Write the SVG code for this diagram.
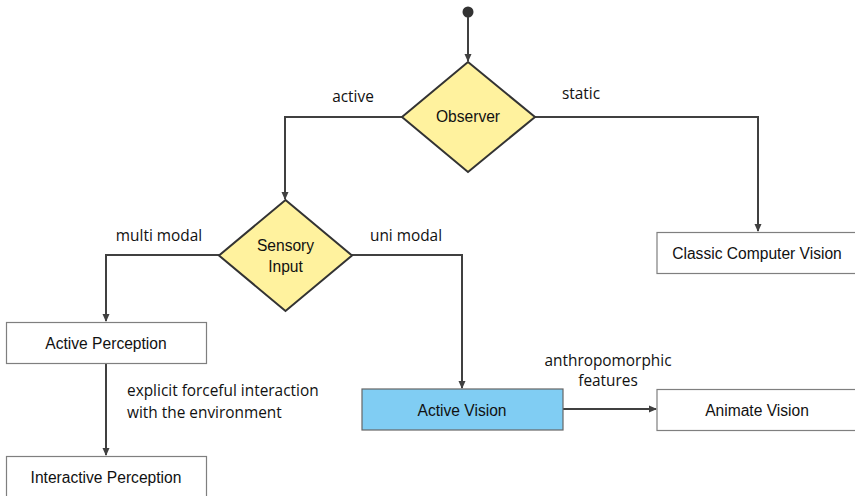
<svg xmlns="http://www.w3.org/2000/svg" width="855" height="496" viewBox="0 0 855 496">
<style>
.e{fill:none;stroke:#404040;stroke-width:2}
.d{fill:#fff29e;stroke:#333;stroke-width:2}
.b{fill:#fff;stroke:#7f7f7f;stroke-width:1.2}
.n{font-family:"Liberation Sans",Arial,sans-serif;font-size:15.6px;fill:#111;text-anchor:middle}
.l{font-family:"Open Sans","Noto Sans",sans-serif;font-size:15.4px;fill:#111}
</style>
<defs>
<marker id="a" markerWidth="8" markerHeight="8" refX="7" refY="4" orient="auto" markerUnits="userSpaceOnUse">
<path d="M0,0.5 L8,4 L0,7.5 Z" fill="#404040"/>
</marker>
</defs>
<g id="connectors">
<circle cx="468" cy="12" r="5.5" fill="#333"/>
<path class="e" d="M468,17 V61" marker-end="url(#a)"/>
<path class="e" d="M402,117 H285 V199" marker-end="url(#a)"/>
<path class="e" d="M535,117 H758 V231" marker-end="url(#a)"/>
<path class="e" d="M219,255 H106 V321" marker-end="url(#a)"/>
<path class="e" d="M352,255 H462 V388" marker-end="url(#a)"/>
<path class="e" d="M106,364 V455" marker-end="url(#a)"/>
<path class="e" d="M563,409 H656" marker-end="url(#a)"/>
<text class="l" x="353" y="102" text-anchor="middle">active</text>
<text class="l" x="581" y="99" text-anchor="middle">static</text>
<text class="l" x="159" y="241" text-anchor="middle">multi modal</text>
<text class="l" x="406" y="241" text-anchor="middle">uni modal</text>
<text class="l" x="127" y="396">explicit forceful interaction</text>
<text class="l" x="127" y="418">with the environment</text>
<text class="l" x="608" y="366" text-anchor="middle">anthropomorphic</text>
<text class="l" x="608" y="386" text-anchor="middle">features</text>
</g>
<g id="observer">
<path class="d" d="M468,62 L535,117 L468,172 L402,117 Z"/>
<text class="n" x="468" y="122">Observer</text>
</g>
<g id="sensory">
<path class="d" d="M285.5,200 L352,255.5 L285.5,311 L219,255.5 Z"/>
<text class="n" x="285.5" y="251">Sensory</text>
<text class="n" x="285.5" y="272">Input</text>
</g>
<g id="classic">
<rect class="b" x="657" y="232.5" width="200" height="41"/>
<text class="n" x="757" y="258.5">Classic Computer Vision</text>
</g>
<g id="activeperception">
<rect class="b" x="6.5" y="322.5" width="200" height="41"/>
<text class="n" x="106" y="348.5">Active Perception</text>
</g>
<g id="interactive">
<rect class="b" x="6.5" y="456.5" width="200" height="41"/>
<text class="n" x="106" y="482.5">Interactive Perception</text>
</g>
<g id="activevision">
<rect x="362" y="389" width="201" height="41" fill="#80cdf3" stroke="#666" stroke-width="1.2"/>
<text class="n" x="462" y="415.5">Active Vision</text>
</g>
<g id="animate">
<rect class="b" x="657" y="389.5" width="200" height="41"/>
<text class="n" x="757" y="415.5">Animate Vision</text>
</g>
</svg>
